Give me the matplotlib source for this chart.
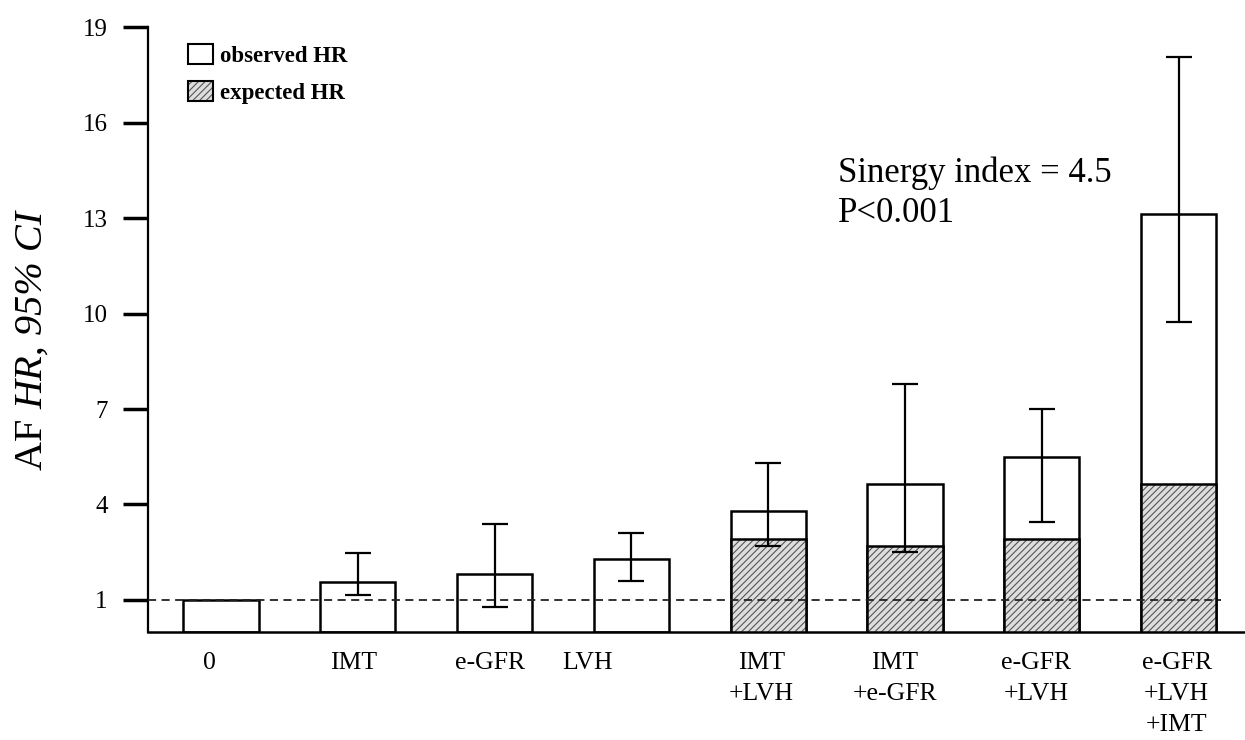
import matplotlib
matplotlib.use('Agg')
import matplotlib.pyplot as plt
from matplotlib.patches import Patch
from matplotlib.legend_handler import HandlerTuple
import matplotlib.transforms as mtransforms
import numpy as np

plt.rcParams['font.family'] = ['Liberation Serif', 'DejaVu Serif']
plt.rcParams['hatch.linewidth'] = 0.8

# --- DATA ---
groups = ['0', 'IMT', 'e-GFR', 'LVH', 'IMT\n+LVH', 'IMT\n+e-GFR',
          'e-GFR\n+LVH', 'e-GFR\n+LVH\n+IMT']
observed = [1.0, 1.55, 1.82, 2.30, 3.80, 4.65, 5.50, 13.14]
ci_low = [np.nan, 1.16, 0.79, 1.60, 2.70, 2.52, 3.46, 9.75]
ci_high = [np.nan, 2.48, 3.40, 3.11, 5.31, 7.80, 7.00, 18.08]
expected = [np.nan, np.nan, np.nan, np.nan, 2.92, 2.70, 2.92, 4.63]
yticks = [1, 4, 7, 10, 13, 16, 19]

# --- FIGURE ---
fig = plt.figure(figsize=(12.45, 7.4), dpi=100)
ax = fig.add_axes([0.1189, 0.1464, 0.8811, 0.8165])

x = np.arange(len(groups))
obs = np.array(observed)
lo = np.array(ci_low)
hi = np.array(ci_high)
exp_ = np.array(expected)
bw = 0.55

HATCH_FACE = '#dedede'
HATCH_LINE = '#555555'

ax.bar(x, obs, width=bw, facecolor='white', edgecolor='black',
       linewidth=1.8, zorder=2)

m = ~np.isnan(exp_)
ax.bar(x[m], exp_[m], width=bw, facecolor=HATCH_FACE, edgecolor=HATCH_LINE,
       hatch='/////', linewidth=0, zorder=3)
ax.bar(x[m], exp_[m], width=bw, fill=False, edgecolor='black',
       linewidth=1.8, zorder=4)

e = ~np.isnan(lo)
ax.errorbar(x[e], obs[e], yerr=[obs[e] - lo[e], hi[e] - obs[e]], fmt='none',
            ecolor='black', elinewidth=1.6, capsize=9.5, capthick=1.6,
            zorder=5)

# reference line at HR = 1
ax.axhline(1, xmin=0, xmax=0.978, color='#222222', linestyle=(0, (4.5, 3)),
           linewidth=1.3, zorder=6)

# --- AXES ---
ax.set_xlim(-0.534, 7.485)
ax.set_ylim(0, 19)
ax.set_yticks(yticks)
ax.set_yticklabels([str(t) for t in yticks], fontsize=18)
ax.tick_params(axis='y', direction='out', length=18, width=2.5, pad=11)
ax.set_xticks(x)
ax.set_xticklabels(groups, fontsize=18.5, linespacing=1.52)
ax.tick_params(axis='x', length=0, pad=15)

# small horizontal nudges for the category labels (pixels)
nudges = [-12, -4, -5, -44, -7, -10, -6, -2]
for lab, dx in zip(ax.get_xticklabels(), nudges):
    lab.set_transform(lab.get_transform() +
                      mtransforms.ScaledTranslation(dx / 100, 0, fig.dpi_scale_trans))

for side in ['top', 'right']:
    ax.spines[side].set_visible(False)
ax.spines['left'].set_linewidth(1.6)
ax.spines['bottom'].set_linewidth(1.8)

# y label: "AF" upright, rest italic
t_af = ax.text(-0.105, 0.318, 'AF ', transform=ax.transAxes,
               rotation=90, ha='center', va='center', fontsize=29)
ax.annotate('HR, 95% CI', xy=(1, 1), xycoords=t_af, rotation=90,
            ha='right', va='bottom', fontsize=29, style='italic')

# --- ANNOTATION ---
ax.text(0.629, 0.744, 'Sinergy index = 4.5', transform=ax.transAxes,
        ha='left', va='baseline', fontsize=25)
ax.text(0.629, 0.678, 'P<0.001', transform=ax.transAxes,
        ha='left', va='baseline', fontsize=25)

# --- LEGEND ---
h_obs = Patch(facecolor='white', edgecolor='black', linewidth=1.5)
h_fill = Patch(facecolor=HATCH_FACE, edgecolor=HATCH_LINE, hatch='/////', linewidth=0)
h_edge = Patch(fill=False, edgecolor='black', linewidth=1.5)
leg = ax.legend([h_obs, (h_fill, h_edge)], ['observed HR', 'expected HR'],
                handler_map={tuple: HandlerTuple(ndivide=1, pad=0)},
                loc='upper left', bbox_to_anchor=(0.0365, 0.972),
                frameon=False, borderpad=0, borderaxespad=0,
                handlelength=1.1, handleheight=0.95, handletextpad=0.3,
                labelspacing=0.6, prop={'size': 16.5, 'weight': 'bold'})

fig.savefig('out.png', dpi=100, facecolor='white')
